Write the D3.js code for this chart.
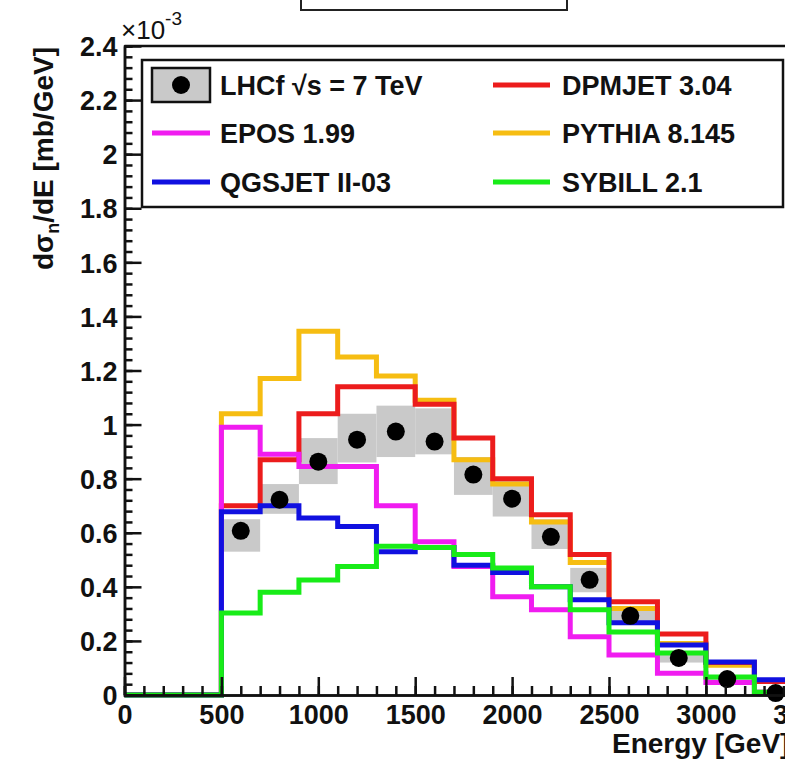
<!DOCTYPE html>
<html>
<head>
<meta charset="utf-8">
<script src="https://cdn.jsdelivr.net/npm/d3@7"></script>
<style>
  body { margin: 0; background: #fff; }
  svg { display: block; }
  text { font-family: "Liberation Sans", Arial, sans-serif; }
</style>
</head>
<body>
<div id="chart"></div>
<script>
// bin edges [GeV] and cross sections [x1e-3 mb/GeV]
const binEdges = [500, 700, 900, 1100, 1300, 1500, 1700, 1900, 2100, 2300, 2500, 2750, 3000, 3250, 3500]

const dataE    = [600, 800, 1000, 1200, 1400, 1600, 1800, 2000, 2200, 2400, 2610, 2860, 3110, 3360]
const dataVal  = [0.607, 0.722, 0.863, 0.944, 0.974, 0.937, 0.815, 0.726, 0.585, 0.426, 0.293, 0.137, 0.059, 0.007]
const sysLow   = [0.53, 0.67, 0.78, 0.86, 0.88, 0.89, 0.74, 0.66, 0.54, 0.38, 0.26, 0.12, 0.05, 0.0]
const sysHigh  = [0.65, 0.78, 0.95, 1.04, 1.07, 1.06, 0.88, 0.80, 0.65, 0.47, 0.32, 0.16, 0.07, 0.02]

const pythia   = [1.04, 1.17, 1.345, 1.25, 1.18, 1.09, 0.87, 0.78, 0.64, 0.49, 0.32, 0.19, 0.11, 0.05]
const dpmjet   = [0.70, 0.87, 1.04, 1.14, 1.14, 1.075, 0.95, 0.80, 0.667, 0.52, 0.345, 0.226, 0.12, 0.05]
const epos     = [0.99, 0.89, 0.845, 0.845, 0.70, 0.567, 0.475, 0.363, 0.315, 0.215, 0.148, 0.08, 0.046, 0.01]
const qgsjet   = [0.678, 0.70, 0.655, 0.623, 0.53, 0.545, 0.48, 0.453, 0.40, 0.352, 0.267, 0.185, 0.122, 0.056]
const sybill   = [0.303, 0.38, 0.425, 0.475, 0.55, 0.545, 0.52, 0.47, 0.40, 0.315, 0.233, 0.155, 0.067, 0.01]

const models = [
    {name: "PYTHIA 8.145",  vals: pythia, color: "#f6bd12"},
    {name: "DPMJET 3.04",   vals: dpmjet, color: "#ec1c1c"},
    {name: "EPOS 1.99",     vals: epos,   color: "#f01cf0"},
    {name: "QGSJET II-03",  vals: qgsjet, color: "#1010e0"},
    {name: "SYBILL 2.1",    vals: sybill, color: "#18ec18"}
]

const yTicks = d3.range(0, 2.41, 0.2)
const xTicks = d3.range(0, 3501, 500)

const W = 785, H = 764
const svg = d3.select("#chart").append("svg").attr("width", W).attr("height", H)

const x = d3.scaleLinear().domain([0, 3500]).range([124.5, 802.8])
const y = d3.scaleLinear().domain([0, 2.4]).range([695, 46])

// title box, mostly cut off at the top
svg.append("rect").attr("x", 301).attr("y", -40).attr("width", 266).attr("height", 50)
    .attr("fill", "#fff").attr("stroke", "#222").attr("stroke-width", 2)

// systematic bands
const plot = svg.append("g")
plot.selectAll(".sys")
    .data(dataE)
    .join("rect")
    .attr("class", "sys")
    .attr("x", (d, i) => x(binEdges[i]))
    .attr("width", (d, i) => x(binEdges[i + 1]) - x(binEdges[i]))
    .attr("y", (d, i) => y(sysHigh[i]))
    .attr("height", (d, i) => y(sysLow[i]) - y(sysHigh[i]))
    .attr("fill", "#c9c9c9")

// step histograms
const step = d3.line().x(d => x(d[0])).y(d => y(d[1])).curve(d3.curveStepAfter)
const histPts = vals => [[0, 0]].concat(vals.map((v, i) => [binEdges[i], v]), [[3500, vals[vals.length - 1]]])

plot.selectAll(".hist")
    .data(models)
    .join("path")
    .attr("class", "hist")
    .attr("d", d => step(histPts(d.vals)))
    .attr("fill", "none")
    .attr("stroke", d => d.color)
    .attr("stroke-width", 5)

// LHCf points
plot.selectAll(".pt")
    .data(dataE)
    .join("circle")
    .attr("class", "pt")
    .attr("cx", d => x(d))
    .attr("cy", (d, i) => y(dataVal[i]))
    .attr("r", 9)
    .attr("fill", "#000")

// frame top line
svg.append("line").attr("x1", x(0)).attr("x2", W).attr("y1", 46).attr("y2", 46)
    .attr("stroke", "#111").attr("stroke-width", 2.5)

// axes: minor ticks then major ticks with labels
const yMinor = svg.append("g").attr("transform", `translate(${x(0)},0)`)
    .call(d3.axisRight(y).tickValues(d3.range(0, 2.401, 0.04)).tickSize(8).tickFormat(""))
const yMajor = svg.append("g").attr("transform", `translate(${x(0)},0)`)
    .call(d3.axisLeft(y).tickValues(yTicks).tickSize(0).tickPadding(7).tickFormat(d3.format("~g")))
yMajor.selectAll(".tick").append("line").attr("x2", 17)

const xMinor = svg.append("g").attr("transform", `translate(0,${y(0)})`)
    .call(d3.axisTop(x).tickValues(d3.range(0, 3501, 100)).tickSize(9).tickFormat(""))
const xMajor = svg.append("g").attr("transform", `translate(0,${y(0)})`)
    .call(d3.axisBottom(x).tickValues(xTicks).tickSize(0).tickPadding(7).tickFormat(d3.format("d")))
xMajor.selectAll(".tick").append("line").attr("y2", -18)

svg.selectAll(".domain").attr("stroke", "#111").attr("stroke-width", 2.5)
svg.selectAll(".tick line").attr("stroke", "#111").attr("stroke-width", 2.5)
svg.selectAll(".tick text")
    .attr("fill", "#111")
    .style("font-size", "27px")
    .style("font-weight", "bold")
yMajor.selectAll(".tick text").attr("dy", "0.36em")
xMajor.selectAll(".tick text").attr("dy", "0.8em")

// exponent
const expo = svg.append("text").attr("x", 121).attr("y", 39).style("font-size", "26px").attr("fill", "#111")
expo.append("tspan").text("×10")
expo.append("tspan").attr("dy", -14).style("font-size", "19px").text("-3")

// axis titles
const yt = svg.append("text")
    .attr("transform", "translate(53,47) rotate(-90)")
    .attr("text-anchor", "end")
    .style("font-size", "28px").style("font-weight", "bold").attr("fill", "#111")
yt.append("tspan").text("dσ")
yt.append("tspan").attr("dy", 6).style("font-size", "18px").text("n")
yt.append("tspan").attr("dy", -6).text("/dE [mb/GeV]")

svg.append("text").attr("x", 612).attr("y", 753)
    .style("font-size", "28px").style("font-weight", "bold").attr("fill", "#111")
    .text("Energy [GeV]")

// legend
const leg = svg.append("g")
leg.append("rect").attr("x", 142).attr("y", 60).attr("width", 641).attr("height", 147)
    .attr("fill", "#fff").attr("stroke", "#111").attr("stroke-width", 2.5)

const rowY = [85, 133, 182]
const legItems = [
    {name: "LHCf √s = 7 TeV", col: 0, row: 0, data: true},
    {name: "EPOS 1.99",    col: 0, row: 1, color: models[2].color},
    {name: "QGSJET II-03", col: 0, row: 2, color: models[3].color},
    {name: "DPMJET 3.04",  col: 1, row: 0, color: models[1].color},
    {name: "PYTHIA 8.145", col: 1, row: 1, color: models[0].color},
    {name: "SYBILL 2.1",   col: 1, row: 2, color: models[4].color}
]
const colX = [[152, 210, 220], [493, 550, 562]]

legItems.forEach(d => {
    const cy = rowY[d.row], c = colX[d.col]
    if (d.data) {
        leg.append("rect").attr("x", c[0]).attr("y", cy - 17).attr("width", c[1] - c[0]).attr("height", 34)
            .attr("fill", "#c9c9c9").attr("stroke", "#111").attr("stroke-width", 2.5)
        leg.append("circle").attr("cx", (c[0] + c[1]) / 2).attr("cy", cy).attr("r", 9).attr("fill", "#000")
    } else {
        leg.append("line").attr("x1", c[0]).attr("x2", c[1]).attr("y1", cy).attr("y2", cy)
            .attr("stroke", d.color).attr("stroke-width", 5)
    }
    leg.append("text").attr("x", c[2]).attr("y", cy).attr("dy", "0.36em")
        .style("font-size", "27px").style("font-weight", "bold").attr("fill", "#111")
        .text(d.name)
})
</script>
</body>
</html>
